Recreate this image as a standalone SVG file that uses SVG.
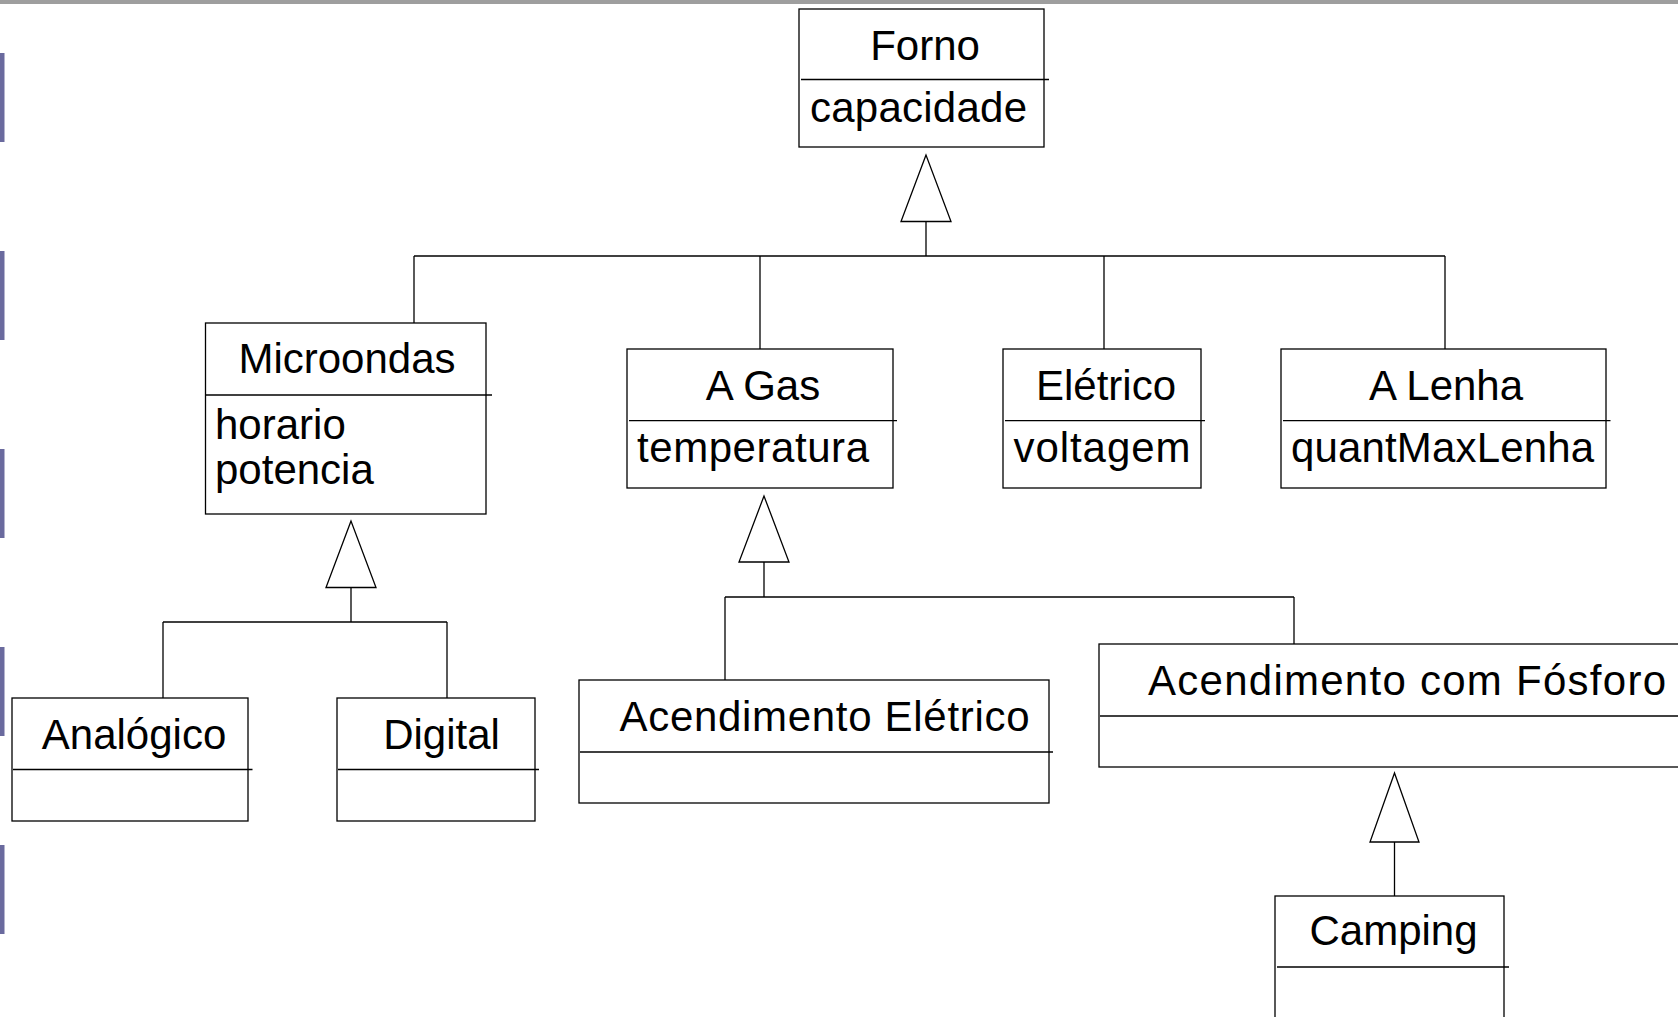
<svg xmlns="http://www.w3.org/2000/svg" width="1678" height="1017" viewBox="0 0 1678 1017">
<style>
.box{fill:#fff;stroke:#000;stroke-width:1.3}
.div{stroke:#000;stroke-width:1.3}
.ln{stroke:#000;stroke-width:1.3;fill:none}
.tri{fill:#fff;stroke:#000;stroke-width:1.3}
.t{font-family:"Liberation Sans",Arial,sans-serif;font-size:42px;fill:#000}
.c{text-anchor:middle}
.bar{fill:#6a6a9e}
</style>
<rect x="0" y="0" width="1678" height="1017" fill="#fff"/>
<rect x="0" y="0" width="1678" height="4" fill="#9e9e9e"/>
<g id="sidebars">
<rect class="bar" x="0" y="53" width="4.5" height="89"/>
<rect class="bar" x="0" y="251" width="4.5" height="89"/>
<rect class="bar" x="0" y="449" width="4.5" height="89"/>
<rect class="bar" x="0" y="647" width="4.5" height="89"/>
<rect class="bar" x="0" y="845" width="4.5" height="89"/>
</g>
<g id="connectors">
<polygon class="tri" points="926,155 901,221.5 951,221.5"/>
<line class="ln" x1="926" y1="221.5" x2="926" y2="256"/>
<line class="ln" x1="414" y1="256" x2="1445" y2="256"/>
<line class="ln" x1="414" y1="256" x2="414" y2="326"/>
<line class="ln" x1="760" y1="256" x2="760" y2="352"/>
<line class="ln" x1="1104" y1="256" x2="1104" y2="352"/>
<line class="ln" x1="1445" y1="256" x2="1445" y2="352"/>
<polygon class="tri" points="351,521 326,587.5 376,587.5"/>
<line class="ln" x1="351" y1="587.5" x2="351" y2="622"/>
<line class="ln" x1="163" y1="622" x2="447" y2="622"/>
<line class="ln" x1="163" y1="622" x2="163" y2="701"/>
<line class="ln" x1="447" y1="622" x2="447" y2="701"/>
<polygon class="tri" points="764,496 739,562 789,562"/>
<line class="ln" x1="764" y1="562" x2="764" y2="597"/>
<line class="ln" x1="725" y1="597" x2="1294" y2="597"/>
<line class="ln" x1="725" y1="597" x2="725" y2="683"/>
<line class="ln" x1="1294" y1="597" x2="1294" y2="647"/>
<polygon class="tri" points="1394.5,773 1370,842 1419,842"/>
<line class="ln" x1="1394.5" y1="842" x2="1394.5" y2="896"/>
</g>
<g id="forno">
<rect class="box" x="799" y="9" width="245" height="138"/>
<line class="div" x1="801" y1="79.5" x2="1049" y2="79.5"/>
<text class="t c" x="925" y="60">Forno</text>
<text class="t" x="810" y="122" textLength="217" lengthAdjust="spacing">capacidade</text>
</g>
<g id="microondas">
<rect class="box" x="205.5" y="323" width="280.5" height="191"/>
<line class="div" x1="205.5" y1="395" x2="492" y2="395"/>
<text class="t c" x="347" y="373">Microondas</text>
<text class="t" x="215" y="439">horario</text>
<text class="t" x="215" y="484">potencia</text>
</g>
<g id="agas">
<rect class="box" x="627" y="349" width="266" height="139"/>
<line class="div" x1="629" y1="420.6" x2="897" y2="420.6"/>
<text class="t c" x="763" y="400">A Gas</text>
<text class="t" x="637" y="462" textLength="232" lengthAdjust="spacing">temperatura</text>
</g>
<g id="eletrico">
<rect class="box" x="1003" y="349" width="198" height="139"/>
<line class="div" x1="1005" y1="420.6" x2="1205" y2="420.6"/>
<text class="t c" x="1106" y="400">Elétrico</text>
<text class="t" x="1013.5" y="462" textLength="177" lengthAdjust="spacing">voltagem</text>
</g>
<g id="alenha">
<rect class="box" x="1281" y="349" width="325" height="139"/>
<line class="div" x1="1283" y1="420.6" x2="1610.5" y2="420.6"/>
<text class="t c" x="1446" y="400">A Lenha</text>
<text class="t" x="1291" y="462" textLength="303" lengthAdjust="spacing">quantMaxLenha</text>
</g>
<g id="analogico">
<rect class="box" x="12" y="698" width="236" height="123"/>
<line class="div" x1="13" y1="769.5" x2="252.5" y2="769.5"/>
<text class="t c" x="134" y="749">Analógico</text>
</g>
<g id="digital">
<rect class="box" x="337" y="698" width="198" height="123"/>
<line class="div" x1="338" y1="769.5" x2="539" y2="769.5"/>
<text class="t c" x="441.5" y="749">Digital</text>
</g>
<g id="acendimento-eletrico">
<rect class="box" x="579" y="680" width="470" height="123"/>
<line class="div" x1="580" y1="752" x2="1053" y2="752"/>
<text class="t" x="619.5" y="731" textLength="410" lengthAdjust="spacing">Acendimento Elétrico</text>
</g>
<g id="acendimento-fosforo">
<rect class="box" x="1099" y="644" width="600" height="123"/>
<line class="div" x1="1100" y1="716" x2="1690" y2="716"/>
<text class="t" x="1148" y="695" textLength="518" lengthAdjust="spacing">Acendimento com Fósforo</text>
</g>
<g id="camping">
<rect class="box" x="1275" y="896" width="229" height="140"/>
<line class="div" x1="1277" y1="967" x2="1509" y2="967"/>
<text class="t c" x="1393.5" y="945">Camping</text>
</g>
</svg>
